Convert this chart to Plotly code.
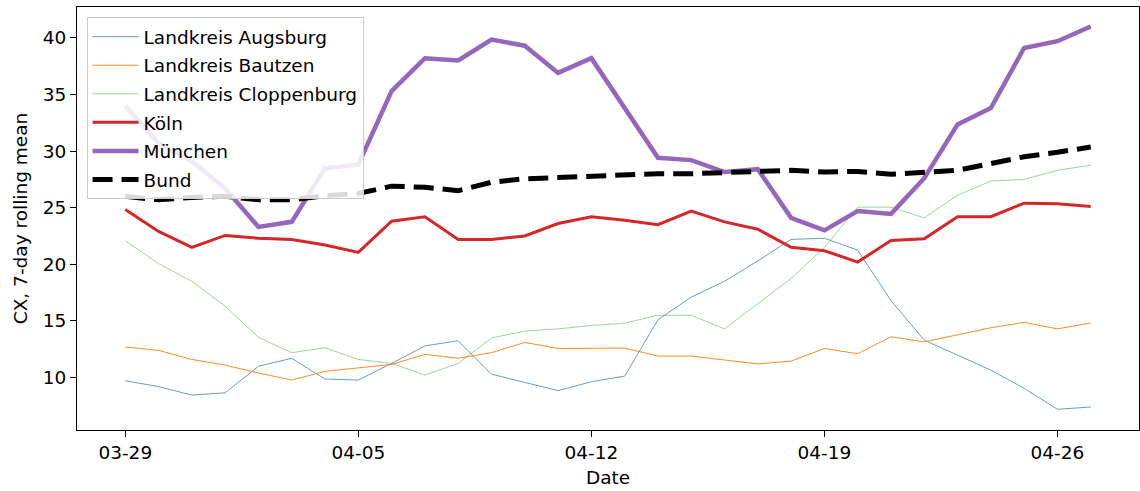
import pandas as pd
import plotly.graph_objects as go

# Daily dates, 7-day rolling mean of CX per region
dates = pd.date_range("2021-03-29", periods=30, freq="D")

augsburg = [9.72, 9.2, 8.45, 8.65, 11.0, 11.7, 9.87, 9.78, 11.25, 12.8,
            13.25, 10.3, 9.57, 8.85, 9.63, 10.13, 15.1, 17.1, 18.5, 20.3,
            22.2, 22.3, 21.25, 16.8, 13.3, 12.0, 10.66, 9.05, 7.2, 7.4]
bautzen = [12.7, 12.4, 11.6, 11.1, 10.4, 9.78, 10.55, 10.86, 11.16, 12.05,
           11.7, 12.2, 13.1, 12.57, 12.57, 12.6, 11.9, 11.9, 11.55, 11.2,
           11.45, 12.57, 12.1, 13.6, 13.15, 13.8, 14.4, 14.87, 14.3, 14.83]
cloppenburg = [22.07, 20.07, 18.5, 16.3, 13.55, 12.2, 12.63, 11.6, 11.25, 10.22,
               11.25, 13.5, 14.1, 14.3, 14.6, 14.8, 15.5, 15.5, 14.3, 16.55,
               18.75, 21.5, 25.05, 25.05, 24.1, 26.1, 27.35, 27.5, 28.3, 28.75]
koeln = [24.85, 22.9, 21.5, 22.55, 22.3, 22.2, 21.7, 21.05, 23.8, 24.2,
         22.2, 22.2, 22.5, 23.6, 24.2, 23.9, 23.5, 24.7, 23.75, 23.1,
         21.5, 21.2, 20.2, 22.1, 22.25, 24.2, 24.2, 25.4, 25.35, 25.1]
muenchen = [34.0, 30.7, 29.1, 26.7, 23.3, 23.75, 28.5, 28.8, 35.3, 38.2,
            38.0, 39.85, 39.3, 36.9, 38.2, 33.8, 29.4, 29.2, 28.15, 28.4,
            24.1, 23.0, 24.7, 24.45, 27.6, 32.35, 33.8, 39.1, 39.7, 41.0]
bund = [26.0, 25.7, 25.9, 26.0, 25.7, 25.7, 26.05, 26.25, 26.9, 26.8,
        26.5, 27.25, 27.55, 27.65, 27.8, 27.95, 28.0, 28.0, 28.1, 28.1,
        28.3, 28.15, 28.2, 27.95, 28.15, 28.3, 28.9, 29.5, 29.9, 30.35]

tick_dates = ["2021-03-29", "2021-04-05", "2021-04-12", "2021-04-19", "2021-04-26"]
y_ticks = [10, 15, 20, 25, 30, 35, 40]

series = [
    ("Landkreis Augsburg", augsburg, dict(color="#1f77b4", width=1), 0.7),
    ("Landkreis Bautzen", bautzen, dict(color="#ff7f0e", width=1), 0.9),
    ("Landkreis Cloppenburg", cloppenburg, dict(color="#2ca02c", width=1), 0.45),
    ("Köln", koeln, dict(color="#d62728", width=3), 1.0),
    ("München", muenchen, dict(color="#9467bd", width=4.5), 1.0),
    ("Bund", bund, dict(color="black", width=5, dash="20px,9px"), 1.0),
]

fig = go.Figure()
for i, (name, vals, line, alpha) in enumerate(series):
    fig.add_trace(go.Scatter(
        x=dates, y=vals, mode="lines", name=name, line=line,
        opacity=alpha, legendgroup=f"g{i}",
    ))

pad = pd.Timedelta(days=1.45)
x_range = [(dates[0] - pad).strftime("%Y-%m-%d %H:%M:%S"),
           (dates[-1] + pad).strftime("%Y-%m-%d %H:%M:%S")]

font = dict(family="DejaVu Sans", size=18.5, color="black")

fig.update_layout(
    width=1140, height=491,
    margin=dict(l=77, r=1, t=7, b=61),
    paper_bgcolor="white", plot_bgcolor="white",
    font=font,
    showlegend=True,
    legend=dict(
        x=0.009, y=0.976, xanchor="left", yanchor="top",
        bgcolor="rgba(255,255,255,0.85)", bordercolor="#cccccc", borderwidth=1,
        font=font, tracegroupgap=1.5, itemwidth=46,
    ),
    xaxis=dict(
        type="date", range=x_range,
        tickmode="array", tickvals=tick_dates, tickformat="%m-%d",
        showgrid=False, zeroline=False,
        showline=True, linecolor="black", linewidth=1, mirror=True,
        ticks="outside", ticklen=6, tickcolor="black",
        title=dict(text="Date", font=font, standoff=8),
    ),
    yaxis=dict(
        range=[5.37, 42.72],
        tickmode="array", tickvals=y_ticks,
        showgrid=False, zeroline=False,
        showline=True, linecolor="black", linewidth=1, mirror=True,
        ticks="outside", ticklen=6, tickcolor="black",
        title=dict(text="CX, 7-day rolling mean", font=font, standoff=10),
    ),
)

fig.write_html("out.html")
